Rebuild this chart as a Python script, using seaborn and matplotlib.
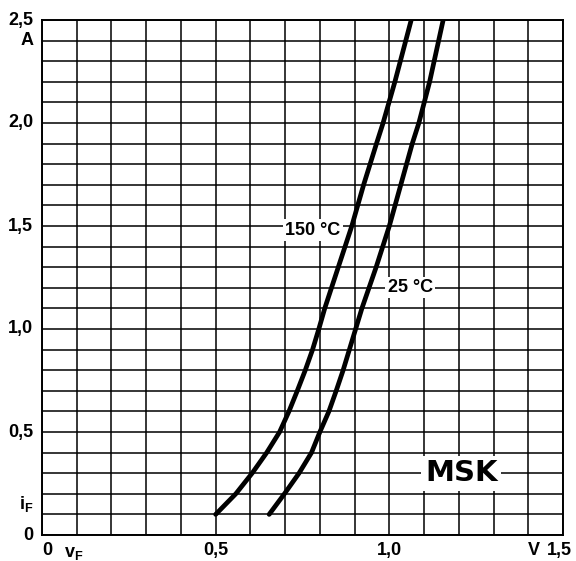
import numpy as np
import pandas as pd
import matplotlib
matplotlib.use('Agg')
import matplotlib.pyplot as plt
import seaborn as sns

# Forward characteristic (vF in V, iF in A)
i_points = [0.1, 0.2, 0.3, 0.4, 0.5, 0.6, 0.7, 0.8, 0.9, 1.0, 1.1, 1.3, 1.5, 1.7, 1.9, 2.0, 2.2, 2.5]
v_150 = [0.500, 0.558, 0.605, 0.647, 0.684, 0.711, 0.735, 0.758, 0.779, 0.797, 0.814,
         0.853, 0.892, 0.926, 0.963, 0.982, 1.016, 1.063]
v_25 = [0.654, 0.698, 0.740, 0.776, 0.800, 0.826, 0.847, 0.867, 0.885, 0.903, 0.921,
        0.962, 1.000, 1.033, 1.066, 1.085, 1.116, 1.155]

x_ticks = [0, 0.5, 1.0, 1.5]
x_labels = ['0', '0,5', '1,0', '1,5']
y_ticks = [0, 0.5, 1.0, 1.5, 2.0, 2.5]
y_labels = ['0', '0,5', '1,0', '1,5', '2,0', '2,5']

df = pd.concat([
    pd.DataFrame({'vF': v_150, 'iF': i_points, 'T': '150 °C'}),
    pd.DataFrame({'vF': v_25, 'iF': i_points, 'T': '25 °C'}),
])

sns.set_theme(style='white')
plt.rcParams['font.family'] = ['Liberation Sans', 'DejaVu Sans']
plt.rcParams['font.weight'] = 'bold'
plt.rcParams['text.color'] = 'black'
plt.rcParams['mathtext.fontset'] = 'custom'
plt.rcParams['mathtext.bf'] = 'Liberation Sans:bold'
plt.rcParams['mathtext.rm'] = 'Liberation Sans:bold'

fig = plt.figure(figsize=(5.76, 5.61), dpi=100)
ax = fig.add_axes([42 / 576, 26 / 561, 521 / 576, 515 / 561])

# millimetre-paper style grid
ax.set_xticks(np.round(np.arange(0, 1.51, 0.1), 2))
ax.set_yticks(np.round(np.arange(0, 2.51, 0.1), 2))
ax.set_xticklabels([])
ax.set_yticklabels([])
ax.tick_params(length=0)
ax.grid(True, color='black', linewidth=1.1)
for sp in ax.spines.values():
    sp.set_color('black')
    sp.set_linewidth(1.4)

sns.lineplot(data=df, x='vF', y='iF', hue='T', palette=['black', 'black'],
             linewidth=3.4, legend=False, sort=False, estimator=None, ax=ax)

ax.set_xlim(0, 1.5)
ax.set_ylim(0, 2.5)
ax.set_xlabel('')
ax.set_ylabel('')

fs = 13
for t, lab in zip(y_ticks, y_labels):
    ax.text(-0.017, t, lab, ha='right', va='center', fontsize=fs, fontweight='bold',
            transform=ax.get_yaxis_transform())
ax.text(-0.017, 2.4, 'A', ha='right', va='center', fontsize=fs, fontweight='bold',
        transform=ax.get_yaxis_transform())
ax.text(-0.017, 0.15, r'$\mathbf{i_F}$', ha='right', va='center', fontsize=fs,
        transform=ax.get_yaxis_transform())

for t, lab in zip(x_ticks, x_labels):
    xx = {0: 0.015, 1.5: 1.49}.get(t, t)
    ax.text(xx, -0.03, lab, ha='center', va='center', fontsize=fs, fontweight='bold',
            transform=ax.get_xaxis_transform())
ax.text(0.09, -0.036, r'$\mathbf{v_F}$', ha='center', va='center', fontsize=fs,
        transform=ax.get_xaxis_transform())
ax.text(1.415, -0.03, 'V', ha='center', va='center', fontsize=fs, fontweight='bold',
        transform=ax.get_xaxis_transform())

box = dict(facecolor='white', edgecolor='none', pad=1.5)
ax.text(0.78, 1.48, '150 °C', ha='center', va='center', fontsize=fs, fontweight='bold', bbox=box)
ax.text(1.06, 1.2, '25 °C', ha='center', va='center', fontsize=fs, fontweight='bold', bbox=box)
ax.text(1.207, 0.3, 'MSK', ha='center', va='center', fontsize=21, fontweight='heavy',
        family=['DejaVu Sans'], bbox=dict(facecolor='white', edgecolor='none', pad=2.5))

fig.savefig('out.png', dpi=100)
